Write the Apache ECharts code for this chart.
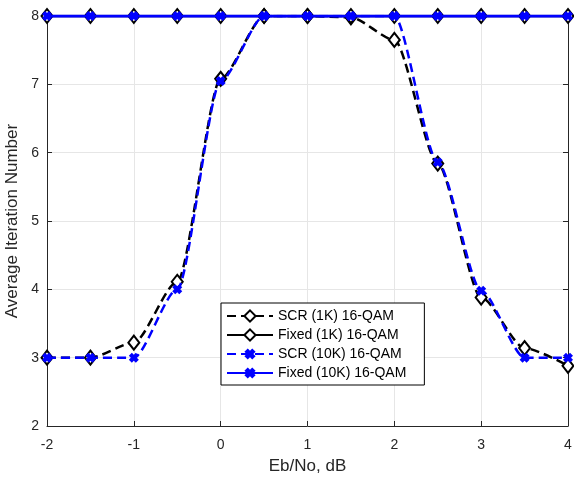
<!DOCTYPE html>
<html>
<head>
<meta charset="utf-8">
<script src="https://cdn.jsdelivr.net/npm/echarts@6/dist/echarts.min.js"></script>
<style>html,body{margin:0;padding:0;background:#fff;}#c{width:574px;height:478px;}</style>
</head>
<body>
<div id="c"></div>
<script>
const ebno = [-2, -1.5, -1, -0.5, 0, 0.5, 1, 1.5, 2, 2.5, 3, 3.5, 4];
const scr1k = [3, 3, 3.22, 4.11, 7.08, 8, 8, 7.98, 7.65, 5.84, 3.88, 3.14, 2.88];
const fixed1k = [8, 8, 8, 8, 8, 8, 8, 8, 8, 8, 8, 8, 8];
const scr10k = [3, 3, 3, 4.0, 7.05, 8, 8, 8, 8, 5.86, 3.98, 3.0, 3.0];
const fixed10k = [8, 8, 8, 8, 8, 8, 8, 8, 8, 8, 8, 8, 8];
const seriesNames = ['SCR (1K) 16-QAM', 'Fixed (1K) 16-QAM', 'SCR (10K) 16-QAM', 'Fixed (10K) 16-QAM'];
const xTicks = [-2, -1, 0, 1, 2, 3, 4];
const yTicks = [2, 3, 4, 5, 6, 7, 8];

const pair = arr => ebno.map((x, i) => [x, arr[i]]);
const xSym = 'path://M0,3 L3,0 L5,2 L7,0 L10,3 L8,5 L10,7 L7,10 L5,8 L3,10 L0,7 L2,5 Z';
const txt = '#262626';
const font = 'Arial, "Liberation Sans", Helvetica, sans-serif';

const chart = echarts.init(document.getElementById('c'), null, {renderer: 'canvas'});
chart.setOption({
  animation: false,
  backgroundColor: '#fff',
  grid: {left: 47, right: 6, top: 16, bottom: 52, containLabel: false, outerBoundsMode: 'none'},
  legend: {
    orient: 'vertical',
    left: 221, top: 303,
    backgroundColor: '#fff',
    borderColor: '#000',
    borderWidth: 1,
    borderRadius: 0,
    padding: [6, 18, 5, 5],
    itemGap: 5,
    itemWidth: 46,
    itemHeight: 14,
    textStyle: {fontFamily: font, fontSize: 14, color: '#000'},
    data: seriesNames.map(n => ({name: n}))
  },
  xAxis: [{
    type: 'value', min: -2, max: 4, interval: 1,
    name: 'Eb/No, dB', nameLocation: 'middle', nameGap: 32,
    nameTextStyle: {fontFamily: font, fontSize: 17, color: txt},
    axisLine: {show: true, onZero: false, lineStyle: {color: '#262626', width: 1}},
    axisTick: {show: true, inside: true, length: 5, lineStyle: {color: '#262626'}},
    axisLabel: {fontFamily: font, fontSize: 14, color: txt, margin: 12, formatter: v => xTicks.includes(v) ? String(v) : ''},
    splitLine: {show: true, lineStyle: {color: '#e6e6e6', width: 1}}
  }, {
    type: 'value', min: -2, max: 4, interval: 1, position: 'top',
    axisLine: {show: true, onZero: false, lineStyle: {color: '#262626', width: 1}},
    axisTick: {show: true, inside: true, length: 5, lineStyle: {color: '#262626'}},
    axisLabel: {show: false}, splitLine: {show: false}
  }],
  yAxis: [{
    type: 'value', min: 2, max: 8, interval: 1,
    name: 'Average Iteration Number', nameLocation: 'middle', nameGap: 23,
    nameTextStyle: {fontFamily: font, fontSize: 17, color: txt},
    axisLine: {show: true, onZero: false, lineStyle: {color: '#262626', width: 1}},
    axisTick: {show: true, inside: true, length: 5, lineStyle: {color: '#262626'}},
    axisLabel: {fontFamily: font, fontSize: 14, color: txt, margin: 8, formatter: v => yTicks.includes(v) ? String(v) : ''},
    splitLine: {show: true, lineStyle: {color: '#e6e6e6', width: 1}}
  }, {
    type: 'value', min: 2, max: 8, interval: 1, position: 'right',
    axisLine: {show: true, onZero: false, lineStyle: {color: '#262626', width: 1}},
    axisTick: {show: true, inside: true, length: 5, lineStyle: {color: '#262626'}},
    axisLabel: {show: false}, splitLine: {show: false}
  }],
  series: [
    {
      name: seriesNames[0], type: 'line', data: pair(scr1k),
      smooth: 0.25, smoothMonotone: 'x',
      symbol: 'emptyDiamond', symbolSize: [11, 14],
      lineStyle: {color: '#000', width: 2.5, type: [9, 5]},
      itemStyle: {color: '#000', borderColor: '#000', borderWidth: 2.2},
      z: 2
    },
    {
      name: seriesNames[1], type: 'line', data: pair(fixed1k),
      symbol: 'emptyDiamond', symbolSize: [11, 14],
      lineStyle: {color: '#000', width: 2.5},
      itemStyle: {color: '#000', borderColor: '#000', borderWidth: 2.2},
      z: 3
    },
    {
      name: seriesNames[2], type: 'line', data: pair(scr10k),
      smooth: 0.25, smoothMonotone: 'x',
      symbol: xSym, symbolSize: 10,
      lineStyle: {color: '#0000ff', width: 2.5, type: [9, 5]},
      itemStyle: {color: '#0000ff', borderWidth: 0},
      z: 4
    },
    {
      name: seriesNames[3], type: 'line', data: pair(fixed10k),
      symbol: xSym, symbolSize: 10,
      lineStyle: {color: '#0000ff', width: 2.8},
      itemStyle: {color: '#0000ff', borderWidth: 0},
      z: 5
    }
  ]
});
</script>
</body>
</html>
